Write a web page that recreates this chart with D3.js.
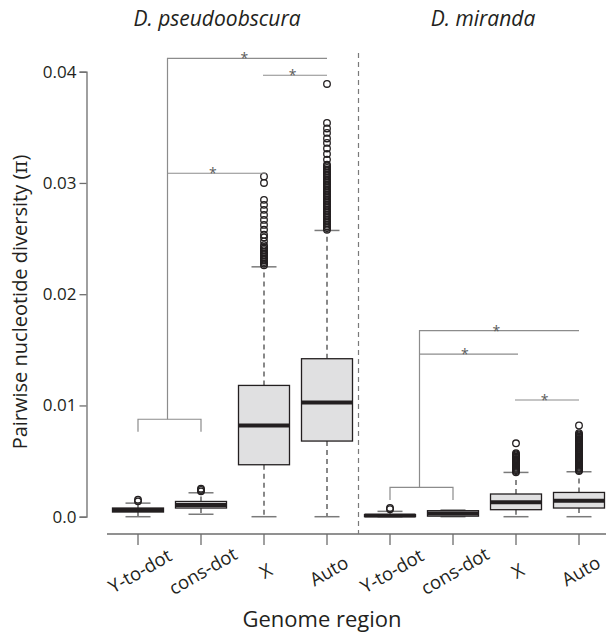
<!DOCTYPE html>
<html>
<head>
<meta charset="utf-8">
<script src="https://d3js.org/d3.v7.min.js"></script>
<style>
  body { margin: 0; background: #fff; }
  svg text { font-family: "Open Sans", "Noto Sans", sans-serif; fill: #231f20; }
  .axis path, .axis line { stroke: #6d6d6d; stroke-width: 1.3; }
  .axis text { font-size: 17px; }
  .box { fill: #e0e0e1; stroke: #231f20; stroke-width: 1.3; }
  .median { stroke: #231f20; stroke-width: 4; }
  .whisker { stroke: #3a3a3a; stroke-width: 1.2; stroke-dasharray: 5,4; }
  .cap { stroke: #7a7a7a; stroke-width: 1.5; }
  .outlier { fill: none; stroke: #231f20; stroke-width: 1.3; }
  .sig { stroke: #8c8c8c; stroke-width: 1.2; fill: none; }
  .star { font-size: 14px; fill: #5a5a5a; text-anchor: middle; }
</style>
</head>
<body>
<script>
// species panels and genome regions
var species = ["D. pseudoobscura", "D. miranda"];
var regions = ["Y-to-dot", "cons-dot", "X", "Auto"];
var yTicks = [0, 0.01, 0.02, 0.03, 0.04];
var yTickLabels = ["0.0", "0.01", "0.02", "0.03", "0.04"];

// box stats, 4 per species (pseudoobscura first, then miranda)
var lowWhisker  = [0,       0.00022, 0,       0,       0,       0,       0,       0];
var q1          = [0.00042, 0.00078, 0.00467, 0.0068,  0.00001, 0.00005, 0.00063, 0.00078];
var medians     = [0.0006,  0.00105, 0.0082,  0.01027, 0.0001,  0.00028, 0.00129, 0.00144];
var q3          = [0.00078, 0.00137, 0.0118,  0.0142,  0.00018, 0.00054, 0.00204, 0.00218];
var highWhisker = [0.00122, 0.00215, 0.02246, 0.02573, 0.00048, 0.0006,  0.00398, 0.00404];

var outliers = [
  [0.00138, 0.00152],
  [0.00228, 0.0024, 0.00252],
  [0.0226, 0.02275, 0.0229, 0.02305, 0.0232, 0.02335, 0.0235, 0.02365, 0.0238, 0.02395,
   0.0241, 0.02425, 0.0244, 0.02475, 0.0251, 0.02534, 0.02579, 0.02623, 0.02668, 0.02713,
   0.02758, 0.02803, 0.02848, 0.03, 0.03058],
  [0.0258, 0.02595, 0.0261, 0.02625, 0.0264, 0.02655, 0.0267, 0.02685, 0.027, 0.02715,
   0.0273, 0.02745, 0.0276, 0.02775, 0.0279, 0.02805, 0.0282, 0.02835, 0.0285, 0.02865,
   0.0288, 0.02895, 0.0291, 0.02925, 0.0294, 0.02955, 0.0297, 0.02985, 0.03, 0.03015,
   0.0303, 0.03045, 0.0306, 0.03075, 0.0309, 0.03105, 0.0312, 0.03135, 0.0315, 0.03165,
   0.0321, 0.0326, 0.0331, 0.0336, 0.034, 0.0345, 0.0349, 0.0354, 0.0389],
  [0.00068, 0.00078],
  [],
  [0.004, 0.0041, 0.0042, 0.0043, 0.0044, 0.0045, 0.0046, 0.0047, 0.0048, 0.0049,
   0.005, 0.0051, 0.0052, 0.0053, 0.0054, 0.0055, 0.0056, 0.0057, 0.0066],
  [0.0041, 0.0042, 0.0043, 0.0044, 0.0045, 0.0046, 0.0047, 0.0048, 0.0049, 0.005,
   0.0051, 0.0052, 0.0053, 0.0054, 0.0055, 0.0056, 0.0057, 0.0058, 0.0059, 0.006,
   0.0061, 0.0062, 0.0063, 0.0064, 0.0065, 0.0066, 0.0067, 0.0068, 0.0069, 0.007,
   0.0071, 0.0072, 0.0073, 0.0074, 0.0075, 0.0082]
];

// significance brackets, one value per species (data units)
var groupLevel  = [0.00876, 0.00264];   // over Y-to-dot + cons-dot
var groupLegEnd = [0.00764, 0.0015];
var vsAutoLevel = [0.0412, 0.01672];
var vsXLevel    = [0.03087, 0.01461];
var xAutoLevel  = [0.03968, 0.01049];

var width = 606, height = 635;
var svg = d3.select("body").append("svg")
    .attr("width", width).attr("height", height);

var keys = d3.range(species.length * regions.length);
var x = d3.scalePoint().domain(keys).range([138, 579]);
var y = d3.scaleLinear().domain([0, 0.04]).range([516.7, 71.7]);
var boxW = 51, capW = 25;

// y axis
svg.append("g")
   .attr("class", "axis")
   .attr("transform", "translate(86.5,0)")
   .call(d3.axisLeft(y).tickValues(yTicks).tickSizeOuter(0).tickSize(7).tickPadding(3)
          .tickFormat(function(d, i) { return yTickLabels[i]; }));

// x axis
var xAxis = svg.append("g")
   .attr("class", "axis")
   .attr("transform", "translate(0,534)");
xAxis.append("line").attr("x1", 107).attr("x2", width).attr("y1", 0).attr("y2", 0);
xAxis.selectAll(".xt").data(keys).enter().append("line")
   .attr("x1", function(d) { return x(d); }).attr("x2", function(d) { return x(d); })
   .attr("y1", 0).attr("y2", 11);

// rotated category labels
svg.selectAll(".xl").data(keys).enter().append("text")
   .attr("class", "xl")
   .style("transform", function(d) {
       return "translate(" + (x(d) + 2) + "px,571px) rotate(-30deg)";
   })
   .attr("text-anchor", "middle")
   .attr("dy", "0.35em")
   .style("font-size", "18.5px")
   .text(function(d) { return regions[d % regions.length]; });

// dashed panel separator
var sepX = (x(3) + x(4)) / 2;
svg.append("line")
   .attr("x1", sepX).attr("x2", sepX).attr("y1", 53).attr("y2", 534)
   .attr("stroke", "#7a7a7a").attr("stroke-width", 1.2).attr("stroke-dasharray", "5,4");

// boxes
var g = svg.selectAll(".bp").data(keys).enter().append("g");
g.append("line").attr("class", "whisker")
   .attr("x1", function(d) { return x(d); }).attr("x2", function(d) { return x(d); })
   .attr("y1", function(d) { return y(q3[d]); }).attr("y2", function(d) { return y(highWhisker[d]); });
g.append("line").attr("class", "whisker")
   .attr("x1", function(d) { return x(d); }).attr("x2", function(d) { return x(d); })
   .attr("y1", function(d) { return y(q1[d]); }).attr("y2", function(d) { return y(lowWhisker[d]); });
g.append("line").attr("class", "cap")
   .attr("x1", function(d) { return x(d) - capW / 2; }).attr("x2", function(d) { return x(d) + capW / 2; })
   .attr("y1", function(d) { return y(highWhisker[d]); }).attr("y2", function(d) { return y(highWhisker[d]); });
g.append("line").attr("class", "cap")
   .attr("x1", function(d) { return x(d) - capW / 2; }).attr("x2", function(d) { return x(d) + capW / 2; })
   .attr("y1", function(d) { return y(lowWhisker[d]); }).attr("y2", function(d) { return y(lowWhisker[d]); });
g.append("rect").attr("class", "box")
   .attr("x", function(d) { return x(d) - boxW / 2; })
   .attr("width", boxW)
   .attr("y", function(d) { return y(q3[d]); })
   .attr("height", function(d) { return y(q1[d]) - y(q3[d]); });
g.append("line").attr("class", "median")
   .attr("x1", function(d) { return x(d) - boxW / 2; }).attr("x2", function(d) { return x(d) + boxW / 2; })
   .attr("y1", function(d) { return y(medians[d]); }).attr("y2", function(d) { return y(medians[d]); });
g.selectAll(".outlier").data(function(d) { return outliers[d].map(function(v) { return { k: d, v: v }; }); })
   .enter().append("circle").attr("class", "outlier")
   .attr("cx", function(o) { return x(o.k); })
   .attr("cy", function(o) { return y(o.v); })
   .attr("r", 3.3);

// significance brackets
species.forEach(function(sp, s) {
    var b = s * regions.length;
    var left = x(b), right = x(b + 1), trunk = (left + right) / 2 - 2;
    var xX = x(b + 2), xA = x(b + 3);
    var sig = svg.append("g");
    sig.append("path").attr("class", "sig")
       .attr("d", "M" + left + "," + y(groupLegEnd[s]) + "V" + y(groupLevel[s]) +
                  "H" + right + "V" + y(groupLegEnd[s]));
    sig.append("path").attr("class", "sig")
       .attr("d", "M" + trunk + "," + y(groupLevel[s]) + "V" + y(vsAutoLevel[s]) + "H" + xA);
    sig.append("path").attr("class", "sig")
       .attr("d", "M" + trunk + "," + y(vsXLevel[s]) + "H" + (xX + 2));
    sig.append("path").attr("class", "sig")
       .attr("d", "M" + (xX - 1) + "," + y(xAutoLevel[s]) + "H" + xA);
    [[trunk, xA, vsAutoLevel[s]], [trunk, xX, vsXLevel[s]], [xX, xA, xAutoLevel[s]]].forEach(function(t) {
        sig.append("text").attr("class", "star")
           .attr("x", (t[0] + t[1]) / 2 - 3)
           .attr("y", y(t[2]) + 5)
           .text("*");
    });
});

// species titles
svg.append("text").attr("x", 217).attr("y", 26).attr("text-anchor", "middle")
   .style("font-size", "21px").style("font-style", "italic").text(species[0]);
svg.append("text").attr("x", 483).attr("y", 26).attr("text-anchor", "middle")
   .style("font-size", "21px").style("font-style", "italic").text(species[1]);

// axis titles
var yt = svg.append("text")
   .attr("transform", "translate(27,302) rotate(-90)")
   .attr("text-anchor", "middle")
   .style("font-size", "20px");
yt.append("tspan").text("Pairwise nucleotide diversity (");
yt.append("tspan").style("font-family", "'DejaVu Serif', serif").text("\u03c0");
yt.append("tspan").text(")");

svg.append("text").attr("x", 322).attr("y", 627).attr("text-anchor", "middle")
   .style("font-size", "22px").text("Genome region");
</script>
</body>
</html>
